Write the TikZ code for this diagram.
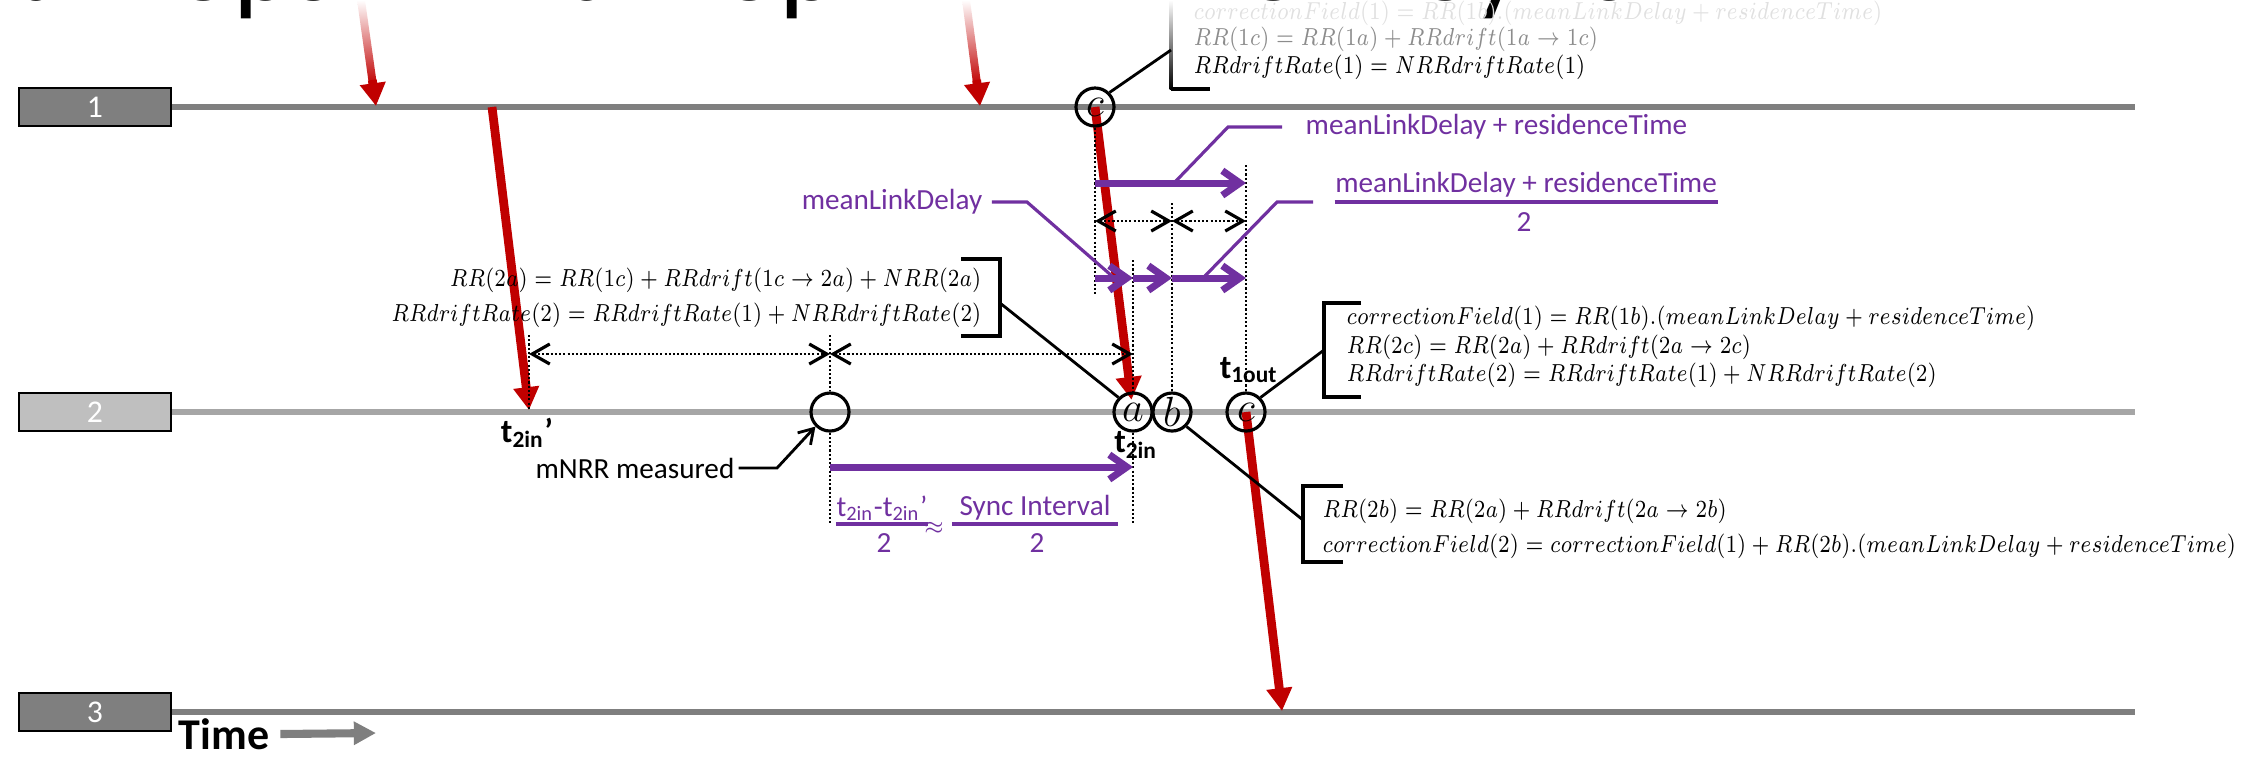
\documentclass[tikz,border=0pt]{standalone}
\usepackage{fontspec}
\usepackage{graphicx}
\setmainfont{Carlito}
\usetikzlibrary{arrows.meta,positioning}

\definecolor{msgred}{RGB}{192,0,0}
\definecolor{spanpurple}{RGB}{112,48,160}
\definecolor{hopdark}{RGB}{127,127,127}
\definecolor{hoplight}{RGB}{191,191,191}
\definecolor{linelight}{RGB}{166,166,166}

% condensed math line, as in the slide
\newcommand{\eqline}[1]{\scalebox{0.83}[1]{$#1$}}

\tikzset{
  redtip/.tip={Triangle[length=6.5pt,width=7pt]},
  purptip/.tip={Straight Barb[length=5pt,width=7pt]},
  barb/.tip={Straight Barb[length=5pt,width=5.7pt,line width=0.9pt]},
  hopbox/.style={draw=black, line width=0.8pt, minimum width=1.52cm, minimum height=0.38cm,
    inner sep=0pt, text=white, font=\fontsize{9}{9}\selectfont},
  timeline/.style={line width=1.7pt, hopdark},
  msgarrow/.style={msgred, line width=2.5pt, -redtip},
  evtcircle/.style={draw, circle, line width=0.9pt, minimum size=0.38cm, inner sep=0pt,
    font=\fontsize{12}{12}\selectfont},
  guideline/.style={line width=0.6pt, dash pattern=on 0.6pt off 0.6pt},
  measureline/.style={guideline, barb-barb},
  spanarrow/.style={spanpurple, line width=2pt, -purptip},
  pcallout/.style={spanpurple, line width=0.9pt},
  fracbar/.style={spanpurple, line width=0.9pt},
  leadline/.style={line width=0.8pt},
  bracketline/.style={line width=1pt},
  eqn/.style={font=\fontsize{6.9}{8.5}\selectfont, inner sep=0pt},
  plabel/.style={spanpurple, font=\fontsize{8.3}{10}\selectfont, inner sep=0pt},
  tlabel/.style={font=\bfseries\fontsize{9.5}{10}\selectfont, inner sep=0pt},
}

\begin{document}
\begin{tikzpicture}[x=0.01cm, y=-0.01cm]
\useasboundingbox (0,0) rectangle (2267,756);
\clip (0,0) rectangle (2267,756);

% slide title, cut off at the top
\node[anchor=base west, inner sep=0pt, font=\fontsize{32.4}{34}\selectfont] (title) at (-171,0)
  {Multi Hops -- 2nd Hop -- NRR from Sync};

% hops and their time lines
\node[hopbox, fill=hopdark] (hop1) at (95,107) {1};
\node[hopbox, fill=hoplight] (hop2) at (95,412) {2};
\node[hopbox, fill=hopdark] (hop3) at (95,712) {3};
\coordinate (end1) at (2135,107);
\coordinate (end2) at (2135,412);
\coordinate (end3) at (2135,712);
\draw[timeline] (hop1.east) -- (end1);
\draw[timeline, linelight] (hop2.east) -- (end2);
\draw[timeline] (hop3.east) -- (end3);

\node[anchor=west, inner sep=0pt, font=\bfseries\fontsize{12.5}{13}\selectfont] (time) at (178,734) {Time};
\coordinate (timeend) at (376,733);
\draw[hopdark, line width=2.3pt, -{Triangle[length=6.3pt,width=6.3pt]}] ([xshift=3pt]time.east) -- (timeend);

% event points
\coordinate (pc1) at (1095,107);
\coordinate (pe0) at (830,412);
\coordinate (pa) at (1133,412);
\coordinate (pb) at (1172,412);
\coordinate (pc2) at (1246,412);
\coordinate (tx1) at (492,107);
\coordinate (t2p) at (529,410);
\coordinate (hit3) at (1282,711);

% sync messages
\shade[top color=white, bottom color=msgred] (357,0) -- (365,0) -- (377,85) -- (369,85) -- cycle;
\draw[msgarrow] (372.3,80) -- (376,106);
\shade[top color=white, bottom color=msgred] (962,0) -- (970,0) -- (981.2,85) -- (973.2,85) -- cycle;
\draw[msgarrow] (976.6,80) -- (980,106);
\draw[msgarrow] (tx1) -- (t2p);
\draw[msgarrow, shorten >=3.5pt] (pc1) -- (pa);
\draw[msgarrow] (pc2) -- (hit3);

\node[evtcircle] (c1) at (pc1) {$c$};
\node[evtcircle] (e0) at (pe0) {};
\node[evtcircle] (a) at (pa) {$a$};
\node[evtcircle] (b) at (pb) {$b$};
\node[evtcircle] (c2) at (pc2) {$c$};

% rows
\coordinate (rowspan) at (0,183);
\coordinate (rowmeas2) at (0,221);
\coordinate (rowsplit) at (0,278);
\coordinate (rowmeas1) at (0,354);
\coordinate (rowsync) at (0,467);

% guides
\draw[guideline] (529,335) -- (t2p);
\draw[guideline] (830,335) -- (e0.north);
\draw[guideline] (e0.south) -- (830,524);
\draw[guideline] (1133,260) -- (a.north);
\draw[guideline] (a.south) -- (1133,524);
\draw[guideline] (1172,203) -- (b.north);
\draw[guideline] (1246,165) -- (c2.north);
\draw[guideline] (c1.south) -- (1095,295);

\draw[measureline] (t2p |- rowmeas1) -- (pe0 |- rowmeas1);
\draw[measureline] (pe0 |- rowmeas1) -- (pa |- rowmeas1);
\draw[measureline] (pc1 |- rowmeas2) -- (pb |- rowmeas2);
\draw[measureline] (pb |- rowmeas2) -- (pc2 |- rowmeas2);

% delays
\draw[spanarrow] (pc1 |- rowspan) -- (pc2 |- rowspan);
\draw[spanarrow] (pc1 |- rowsplit) -- (pa |- rowsplit);
\draw[spanarrow] (pa |- rowsplit) -- (pb |- rowsplit);
\draw[spanarrow] (pb |- rowsplit) -- (pc2 |- rowsplit);
\draw[spanarrow] (pe0 |- rowsync) -- (pa |- rowsync);

\node[plabel, anchor=west] (mlrlabel) at (1305,127) {meanLinkDelay + residenceTime};
\draw[pcallout] (1174,183) -- (1228,127) -- (1282,127);

\node[plabel, anchor=east] (mldlabel) at (983,202) {meanLinkDelay};
\draw[pcallout] ([xshift=2.5pt]mldlabel.east) -- (1027,202) -- (1112,276);

\coordinate (rowbar) at (0,202);
\node[plabel] (mlrnum) at (1526,185) {meanLinkDelay + residenceTime};
\node[plabel] (mlrden) at (1524,222) {2};
\draw[fracbar] (mlrnum.west |- rowbar) -- (mlrnum.east |- rowbar);
\draw[pcallout] (1203,278) -- (1277,202) -- (1313,202);

\coordinate (rowsbar) at (0,524);
\node[plabel] (synum1) at (882,508) {t\textsubscript{2in}-t\textsubscript{2in}'};
\node[plabel] (syden1) at (884,543) {2};
\node[plabel] (approx) at (934,528) {$\scriptstyle\approx$};
\node[plabel] (synum2) at (1035,508) {Sync Interval};
\node[plabel] (syden2) at (1037,543) {2};
\draw[fracbar] (synum1.west |- rowsbar) -- (synum1.east |- rowsbar);
\draw[fracbar] ([xshift=-2pt]synum2.west |- rowsbar) -- ([xshift=2pt]synum2.east |- rowsbar);

% time stamps
\node[tlabel] (t2pl) at (527,433) {t\textsubscript{2in}'};
\node[tlabel] (t2il) at (1136,445) {t\textsubscript{2in}};
\node[tlabel] (t1ol) at (1249,370) {t\textsubscript{1out}};

\node[inner sep=0pt, font=\fontsize{8.3}{10}\selectfont, anchor=east] (mnrr) at (735,468) {mNRR measured};
\draw[leadline, -{Straight Barb[length=4pt,width=5pt]}] ([xshift=1pt]mnrr.east) -- (777,468) -- (e0.south west);

% equations at hop 1 (fading out)
\node[eqn, anchor=west, text=black!12] (eqt1) at (1193,13) {\eqline{correctionField(1) = RR(1b).(meanLinkDelay + residenceTime)}};
\node[eqn, anchor=west, text=black!45] (eqt2) at (1193,39) {\eqline{RR(1c) = RR(1a) + RRdrift(1a\rightarrow 1c)}};
\node[eqn, anchor=west] (eqt3) at (1193,67) {\eqline{RRdriftRate(1) = NRRdriftRate(1)}};
\shade[top color=white, bottom color=black] (1169.5,0) rectangle (1172.5,89);
\draw[bracketline] (1171,89) -- (1210,89);
\draw[leadline] (c1.north east) -- (1171,50);

% equations at 2a
\node[eqn, anchor=east] (eql1) at (982,280) {\eqline{RR(2a) = RR(1c) + RRdrift(1c\rightarrow 2a) + NRR(2a)}};
\node[eqn, anchor=east] (eql2) at (982,315) {\eqline{RRdriftRate(2) = RRdriftRate(1) + NRRdriftRate(2)}};
\draw[bracketline] (961,259) -- (1000,259) -- (1000,336) -- (961,336);
\draw[leadline] (1000,303) -- (a.north west);

% equations at 2c
\node[eqn, anchor=west] (eqr1) at (1346,318) {\eqline{correctionField(1) = RR(1b).(meanLinkDelay + residenceTime)}};
\node[eqn, anchor=west] (eqr2) at (1346,347) {\eqline{RR(2c) = RR(2a) + RRdrift(2a\rightarrow 2c)}};
\node[eqn, anchor=west] (eqr3) at (1346,375) {\eqline{RRdriftRate(2) = RRdriftRate(1) + NRRdriftRate(2)}};
\draw[bracketline] (1361,303) -- (1324,303) -- (1324,397) -- (1361,397);
\draw[leadline] (1324,350) -- (c2.north east);

% equations at 2b
\node[eqn, anchor=west] (eqb1) at (1322,511) {\eqline{RR(2b) = RR(2a) + RRdrift(2a\rightarrow 2b)}};
\node[eqn, anchor=west] (eqb2) at (1322,546) {\eqline{correctionField(2) = correctionField(1) + RR(2b).(meanLinkDelay + residenceTime)}};
\draw[bracketline] (1343,486) -- (1303,486) -- (1303,562) -- (1343,562);
\draw[leadline] (b.south east) -- (1303,520);
\end{tikzpicture}
\end{document}
